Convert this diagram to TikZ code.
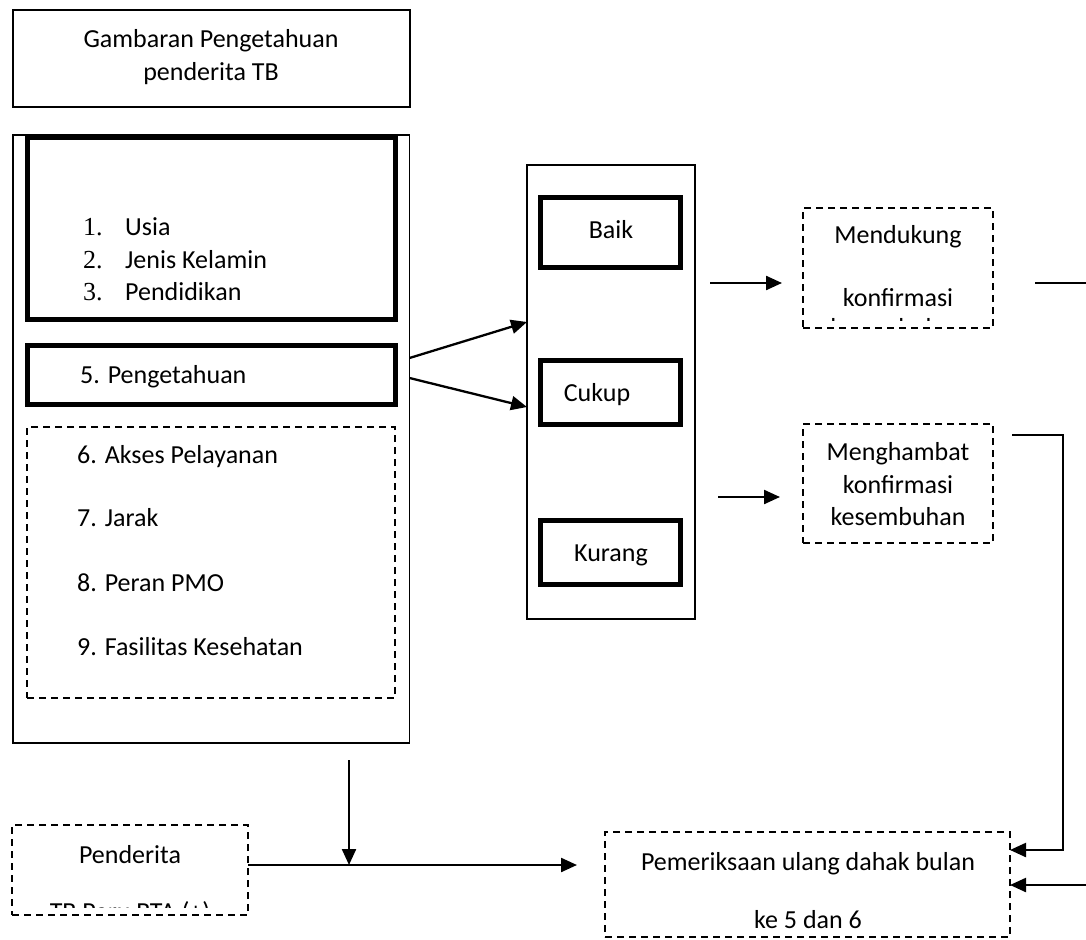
\documentclass[tikz,border=0pt]{standalone}
\usepackage{fontspec}
\setmainfont{Carlito}
\newfontfamily\numfont{Liberation Serif}
\usepackage{tikz}
\usetikzlibrary{arrows.meta,positioning,calc}

\begin{document}
\begin{tikzpicture}[
	%	style def
    x=1pt, y=-1pt,
    thin box/.style={draw, line width=1.6pt, inner sep=0pt, outer sep=0pt},
    thick box/.style={draw, line width=5.5pt, inner sep=0pt, outer sep=0pt},
    dash box/.style={draw, line width=2pt, dash pattern=on 7pt off 5pt, inner sep=0pt, outer sep=0pt},
    important line/.style={line width=2.3pt},
    arrow line/.style={important line, -{Triangle[length=16pt,width=14pt]}},
    every node/.style={color=black, font=\fontsize{26}{32}\selectfont},
    txt/.style={anchor=base, inner sep=0pt},
    item/.style={anchor=base west, inner sep=0pt}
    ]
    \useasboundingbox (0,0) rectangle (1086,939);

	% judul
	\node[thin box, minimum width=397pt, minimum height=97pt] (judul) at (211.5,58.5) {};
	\node[txt] (judul1) at (211,48) {Gambaran Pengetahuan};
	\node[txt] (judul2) at (211,81) {penderita TB};

	% variabel penderita
	\node[thin box, minimum width=396.5pt, minimum height=608pt] (faktor) at (211.25,439) {};
	\node[thick box, minimum width=368pt, minimum height=182pt] (karakter) at (211.5,228.5) {};
	\foreach \n/\t/\y in {1/Usia/235, 2/Jenis Kelamin/268, 3/Pendidikan/300}{
		\node[item] (no\n) at (83,\y) {\numfont \n.};
		\node[item] (ciri\n) at (125,\y) {\t};
	}
	\node[thick box, minimum width=368pt, minimum height=59pt] (pengetahuan) at (211.5,375) {};
	\node[item] (pengetahuan txt) at (80,383) {5. Pengetahuan};
	\node[dash box, minimum width=368pt, minimum height=271pt] (lain) at (211,562.5) {};
	\foreach \t/\y [count=\i] in {6. Akses Pelayanan/463, 7. Jarak/526, 8. Peran PMO/591, 9. Fasilitas Kesehatan/655}
		\node[item] (lain\i) at (77,\y) {\t};

	% kategori pengetahuan
	\node[thin box, minimum width=168pt, minimum height=454pt] (kategori) at (611,392) {};
	\node[thick box, minimum width=140pt, minimum height=70pt] (baik) at (610.5,232.5) {};
	\node[thick box, minimum width=140pt, minimum height=64pt] (cukup) at (610.5,392.5) {};
	\node[thick box, minimum width=140pt, minimum height=64pt] (kurang) at (610.5,552.5) {};
	\node[txt] (baik txt) at (611,238) {Baik};
	\node[txt] (cukup txt) at (597,401) {Cukup};
	\node[txt] (kurang txt) at (611,561) {Kurang};

	% hasil
	\node[dash box, minimum width=190pt, minimum height=120pt] (mendukung) at (898,268) {};
	\node[txt] (mendukung1) at (898,243) {Mendukung};
	\node[txt] (mendukung2) at (898,306) {konfirmasi};
	\begin{scope}
		\clip (803,300) rectangle (993,320);
		\node[txt] (mendukung3) at (898,336) {kesembuhan};
	\end{scope}
	\node[dash box, minimum width=190pt, minimum height=119pt] (menghambat) at (898,483.5) {};
	\node[txt] (menghambat1) at (898,460) {Menghambat};
	\node[txt] (menghambat2) at (898,493) {konfirmasi};
	\node[txt] (menghambat3) at (898,525) {kesembuhan};

	% bawah
	\node[dash box, minimum width=236pt, minimum height=90pt] (penderita) at (130,870) {};
	\node[txt] (penderita1) at (130,863) {Penderita};
	\begin{scope}
		\clip (12,890) rectangle (248,907);
		\node[txt] (penderita2) at (130,920) {TB Paru BTA (+)};
	\end{scope}
	\node[dash box, minimum width=405pt, minimum height=105pt] (pemeriksaan) at (807.5,884.5) {};
	\node[txt] (pemeriksaan1) at (808,870) {Pemeriksaan ulang dahak bulan};
	\node[txt] (pemeriksaan2) at (808,928) {ke 5 dan 6};

	% panah
	\coordinate (pg1) at (409.5,358);
	\coordinate (pg2) at (409.5,378);
	\draw[arrow line] (pg1) -- (kategori.west |- 0,322);
	\draw[arrow line] (pg2) -- (kategori.west |- 0,407);
	\coordinate (ke baik) at (710,283);
	\coordinate (ke kurang) at (718,497);
	\draw[arrow line] (ke baik) -- (782,283);
	\draw[arrow line] (ke kurang) -- (780,497);
	\coordinate (md out) at (1035,283);
	\coordinate (mh out) at (1012,435);
	\draw[arrow line] (md out) -- (1100,283) -- (1100,885) -- (pemeriksaan.east |- 0,885);
	\draw[arrow line] (mh out) -- (1063,435) -- (1063,850) -- (pemeriksaan.east |- 0,850);
	\coordinate (turun) at (349,760);
	\coordinate (temu) at (349,865);
	\coordinate (masuk) at (577,865);
	\draw[arrow line] (turun) -- (temu);
	\draw[arrow line] (penderita.east |- temu) -- (masuk);
\end{tikzpicture}
\end{document}
